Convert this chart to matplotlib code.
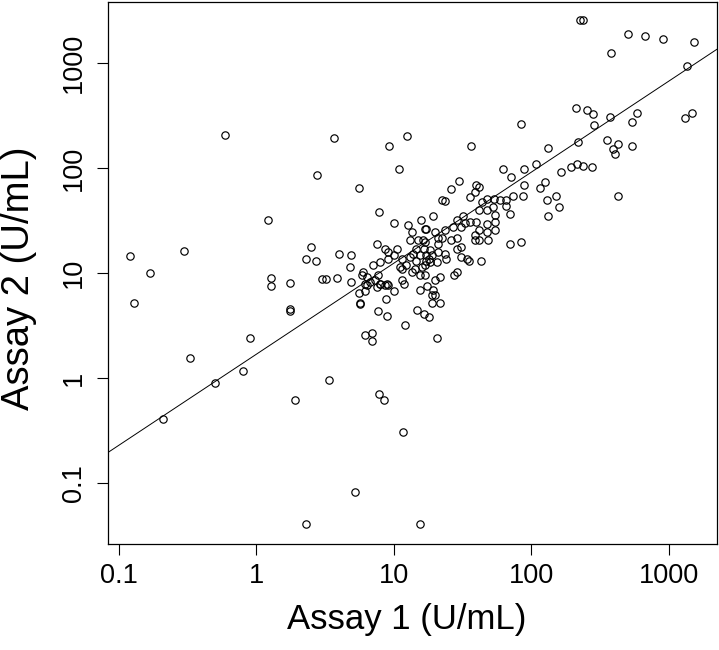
import matplotlib
matplotlib.use("Agg")
import matplotlib.pyplot as plt
from matplotlib.ticker import FixedLocator, NullLocator

plt.rcParams['font.family'] = ['Liberation Sans', 'DejaVu Sans']

# values (U/mL)
assay1 = [
    0.12, 0.13, 0.17, 0.21, 0.3, 0.33, 0.5, 0.59, 0.8, 0.9,
    1.22, 1.28, 1.28, 1.76, 1.76, 1.76, 1.9, 2.3, 2.3, 2.7,
    2.5, 2.75, 3.0, 3.2, 3.4, 3.7, 3.9, 4.0, 4.8, 4.9,
    4.9, 5.2, 5.6, 5.6, 5.7, 5.7, 6.2, 6.2, 6.2, 6.9,
    6.9, 7.7, 7.8, 7.8, 8.5, 8.8, 9.0, 9.2, 10, 10,
    11, 11.6, 12, 12.5, 7.9, 9.0, 6.0, 5.9, 6.4, 6.7,
    6.4, 7.3, 7.7, 7.95, 7.5, 8.6, 9.1, 7.1, 7.95, 9.1,
    10, 11.4, 7.5, 8.6, 9.1, 10.5, 11.1, 11.4, 11.4, 11.8,
    13.2, 15.1, 16.4, 13.2, 12.3, 14.3, 16.0, 13.5, 15.5, 14.6,
    16.5, 13.8, 15.5, 17.2, 14.6, 17.2, 14.7, 16.6, 18.2, 15.6,
    17.4, 19.4, 18.9, 20, 19.1, 21.7, 20, 15.5, 20.6, 12.8,
    13.5, 15.8, 17.2, 19.4, 21.7, 16.9, 18.4, 16.9, 18.4, 18.9,
    18, 20.5, 16.9, 21, 22.4, 21, 23.6, 24.2, 26, 29,
    31, 28.7, 34, 35, 31, 29, 27.5, 43, 39, 42,
    48.5, 70, 85, 16.9, 20, 23.6, 21, 28.7, 32, 36,
    27, 31, 33, 40, 47.5, 55, 41.5, 47.5, 55, 39,
    22.5, 23.5, 26, 30, 40, 42, 39, 36, 44, 48,
    54, 59, 66, 74, 87, 66, 70, 42, 48, 53,
    55, 62, 71, 89, 89, 36.5, 85, 108, 116, 125,
    130, 151, 160, 132, 132, 165, 195, 214, 239, 275,
    212, 253, 283, 288, 219, 374, 354, 430, 396, 407,
    543, 543, 585, 430, 380, 225, 240, 510, 670, 910,
    1540, 1350, 1320, 1470,
]
assay2 = [
    14.5, 5.2, 10, 0.41, 16.5, 1.56, 0.9, 210, 1.18, 2.45,
    32, 9.0, 7.6, 8.1, 4.6, 4.4, 0.62, 0.041, 13.6, 13.2,
    17.7, 86, 8.8, 8.8, 0.97, 196, 9.0, 15.4, 11.4, 14.8,
    8.3, 0.082, 65, 6.5, 5.1, 5.2, 6.8, 7.9, 2.6, 2.7,
    2.25, 4.4, 38, 0.71, 0.62, 5.7, 3.9, 165, 30, 6.8,
    98, 0.31, 3.2, 203, 7.95, 7.85, 10.4, 9.7, 9.2, 8.3,
    7.7, 8.6, 9.6, 8.0, 7.4, 7.7, 7.7, 11.9, 12.8, 13.8,
    14.8, 13.8, 19.2, 17.2, 16, 17.2, 11.4, 11.0, 8.6, 8.0,
    20.6, 20.6, 20.6, 14.3, 11.9, 11.0, 11.4, 10.3, 9.6, 17.2,
    17.2, 15.4, 14.8, 14.8, 13.2, 13.2, 4.5, 4.1, 3.8, 6.9,
    7.6, 7.0, 6.2, 6.2, 5.2, 5.2, 8.6, 0.041, 2.45, 29,
    25, 32, 26.7, 35, 9.3, 11.9, 12.8, 9.6, 16.6, 14.8,
    13.8, 12.8, 19.9, 19.2, 21.5, 16, 15.4, 13.8, 20.6, 21.5,
    17.8, 17.2, 13.8, 13.2, 14.3, 10.3, 9.6, 13, 20.6, 20.6,
    20.6, 19, 20, 26.5, 24.8, 25.7, 21.8, 32, 35, 31,
    27.5, 27.5, 30, 30.8, 29.8, 30.8, 25.7, 24.8, 25.7, 23,
    50, 49, 63, 75, 70, 66, 59, 53, 48, 51,
    51, 50, 50, 55, 55, 43.5, 37, 40, 40, 43,
    36, 98, 83, 98, 70, 164, 267, 109, 65, 74,
    50, 55, 43, 35, 156, 92, 103, 109, 105, 103,
    378, 357, 327, 257, 178, 308, 185, 172, 154, 138,
    164, 276, 340, 55, 1250, 2600, 2600, 1890, 1820, 1700,
    1600, 950, 300, 340,
]

# regression line in log10 space
fit_intercept = 0.229
fit_slope = 0.867

x_ticks = [0.1, 1, 10, 100, 1000]
y_ticks = [0.1, 1, 10, 100, 1000]
tick_labels = ['0.1', '1', '10', '100', '1000']

fig = plt.figure(figsize=(7.19, 6.5), dpi=100)
ax = fig.add_axes([0.1502, 0.1634, 0.8466, 0.8335])

ax.plot(assay1, assay2, 'o', mfc='none', mec='black', ms=5.3, mew=0.85)
ax.set_xscale('log')
ax.set_yscale('log')
ax.axline((1, 10 ** fit_intercept), (10, 10 ** (fit_intercept + fit_slope)),
          color='black', lw=0.7)

ax.set_xlim(0.0836, 2234)
ax.set_ylim(0.0266, 3837)

ax.xaxis.set_major_locator(FixedLocator(x_ticks))
ax.yaxis.set_major_locator(FixedLocator(y_ticks))
ax.xaxis.set_minor_locator(NullLocator())
ax.yaxis.set_minor_locator(NullLocator())
ax.set_xticklabels(tick_labels)
ax.set_yticklabels(tick_labels, rotation=90, va='center')
ax.tick_params(length=8, width=0.8, labelsize=19.5)
ax.tick_params(axis='x', pad=5.5)
ax.tick_params(axis='y', pad=7)

for s in ax.spines.values():
    s.set_linewidth(0.9)

ax.set_xlabel('Assay 1 (U/mL)', fontsize=25)
ax.set_ylabel('Assay 2 (U/mL)', fontsize=27.5)
ax.xaxis.set_label_coords(0.49, -0.14)
ax.yaxis.set_label_coords(-0.146, 0.49)
ax.xaxis.label.set_va('center')
ax.yaxis.label.set_va('center')

fig.savefig('out.png', dpi=100)
